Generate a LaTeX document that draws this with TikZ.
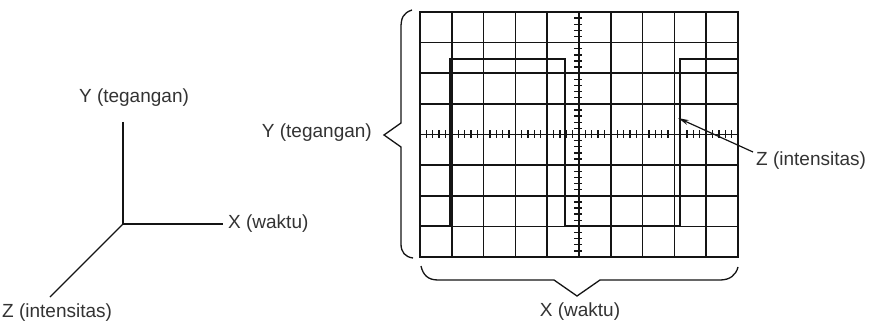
\documentclass[tikz,border=0pt]{standalone}
\usepackage{fontspec}
\setmainfont{Liberation Sans}
\usetikzlibrary{arrows.meta}
\definecolor{ink}{HTML}{141414}
\definecolor{txt}{HTML}{333333}
\tikzset{
  lbl/.style={font=\fontsize{19}{21}\selectfont, text=txt, inner sep=0pt},
  gridline/.style={draw=ink, line width=1.6pt},
  frame/.style={draw=ink, line width=2pt},
  wave/.style={draw=ink, line width=2.6pt, line join=miter},
  tick/.style={draw=ink, line width=1.3pt},
  axis/.style={draw=ink, line width=1.2pt},
  bracepath/.style={draw=ink, line width=1.3pt},
  pointer/.style={draw=ink, line width=1.2pt, -{Stealth[length=11pt,width=5pt]}}
}
\begin{document}
\begin{tikzpicture}[x=1pt,y=-1pt]
\useasboundingbox (0,0) rectangle (879,326);
\fill[white] (0,0) rectangle (879,326);

% three-axis sketch on the left
\coordinate (O) at (123,224);
\coordinate (Yend) at (123,122);
\coordinate (Xend) at (223,224);
\coordinate (Zend) at (50,297);
\draw[axis] (Yend) -- (O) -- (Xend);
\draw[axis] (O) -- (Zend);
\node[lbl] (ylabel) at (134,98) {Y (tegangan)};
\node[lbl, anchor=west] (xlabel) at (228,224) {X (waktu)};
\node[lbl, anchor=west] (zlabel) at (2,313) {Z (intensitas)};

% screen graticule: 10 x 8 divisions
\def\gx{31.8}
\def\gy{30.625}
\foreach \i in {1,...,9} \draw[gridline] (420+\i*\gx,12) -- (420+\i*\gx,257);
\foreach \j in {1,...,7} \draw[gridline] (420,12+\j*\gy) -- (738,12+\j*\gy);
\draw[frame] (420,12) rectangle (738,257);

% minor ticks on the centre axes
\foreach \k in {1,...,39} \draw[tick] (574,12+\k*\gy/5) -- (582,12+\k*\gy/5);
\foreach \k in {1,...,49} \draw[tick] (420+\k*\gx/5,130.5) -- (420+\k*\gx/5,138.5);

% square-wave trace
\draw[wave] (420,226) -- (450,226) -- (450,59) -- (565,59) -- (565,226)
  -- (680,226) -- (680,59) -- (738,59);

% brace along the vertical extent
\draw[bracepath] (412,10) .. controls (403,13) and (401,18) .. (401,28)
  -- (401,123) -- (384,135) -- (401,147) -- (401,244)
  .. controls (401,252) and (405,257) .. (413,258);
\node[lbl, anchor=east] (ybrace) at (372,133) {Y (tegangan)};

% brace along the horizontal extent
\draw[bracepath] (421,266) .. controls (423,275) and (428,280) .. (438,280)
  -- (554,280) -- (577,296) -- (600,280) -- (720,280)
  .. controls (730,280) and (736,275) .. (738,267);
\node[lbl] (xbrace) at (580,312) {X (waktu)};

% intensity pointer
\node[lbl, anchor=west] (zright) at (756,161) {Z (intensitas)};
\coordinate (ztip) at (678,118);
\draw[pointer] (753,152) -- (ztip);
\end{tikzpicture}
\end{document}
